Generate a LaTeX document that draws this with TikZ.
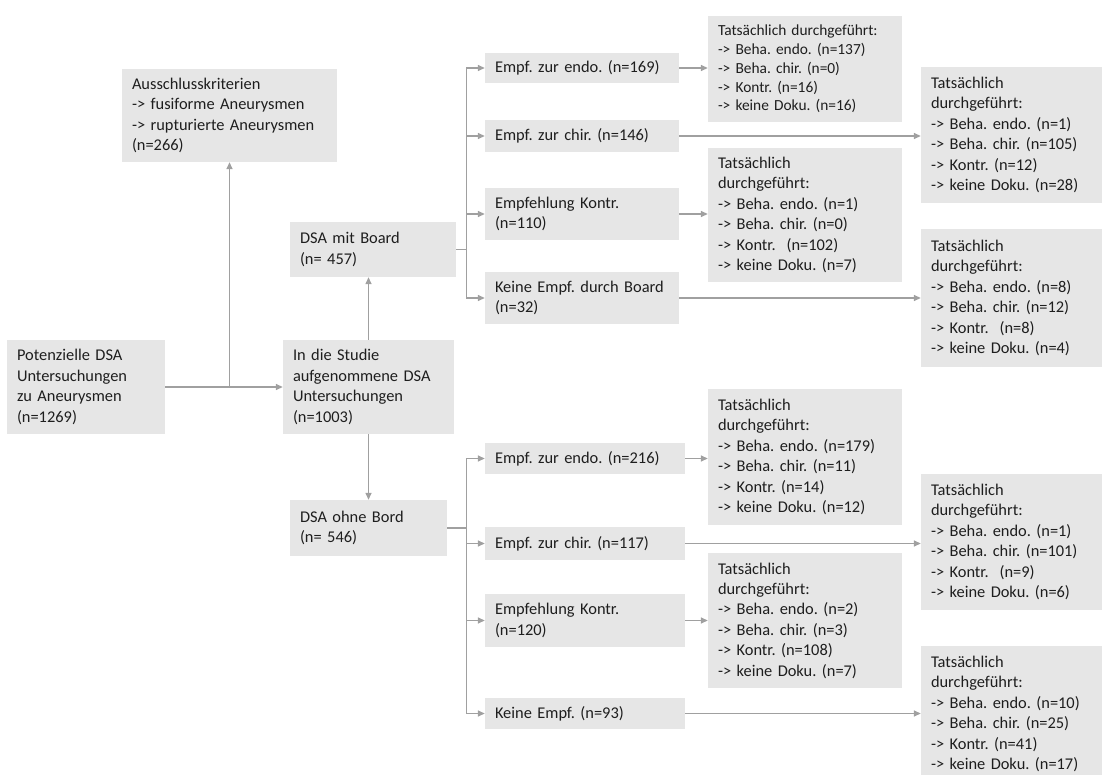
\documentclass[tikz,border=0pt]{standalone}
\usepackage{fontspec}
\setmainfont{Carlito}
\usetikzlibrary{arrows.meta,positioning}
\frenchspacing

\begin{document}
\begin{tikzpicture}[x=1pt, y=-1pt,
    box/.style={fill=fillColourBox, text=textColour, inner xsep=10pt, inner ysep=0pt,
        align=left, font=\fontsize{16.4}{20.4}\selectfont},
    smallbox/.style={box, font=\fontsize{15.4}{18.8}\selectfont},
    line/.style={draw=lineColour, line width=1.4pt},
    arr/.style={line, -{Triangle[length=7pt,width=6pt]}}]
    \definecolor{fillColourBox}{HTML}{E6E6E6}
    \definecolor{lineColour}{HTML}{A0A0A0}
    \definecolor{textColour}{HTML}{1E1E1E}

    \useasboundingbox (0,0) rectangle (1103,775);

    % Left part: selection of the examinations
    \node[box, text width=138pt, minimum height=94pt] (pot) at (86,387)
        {Potenzielle DSA\\Untersuchungen\\zu Aneurysmen\\(n=1269)};
    \node[box, text width=195pt, minimum height=93pt] (excl) at (229.5,115.5)
        {Ausschlusskriterien\\-> fusiforme Aneurysmen\\-> rupturierte Aneurysmen\\(n=266)};
    \node[box, text width=151pt, minimum height=94pt] (study) at (368.5,387)
        {In die Studie\\aufgenommene DSA\\Untersuchungen\\(n=1003)};
    \node[box, text width=146pt, minimum height=55pt] (board) at (373,249.5)
        {DSA mit Board\\(n= 457)};
    \node[box, text width=137pt, minimum height=56pt] (noboard) at (368.5,528)
        {DSA ohne Bord\\(n= 546)};

    % Recommendations with board
    \node[box, text width=174pt, minimum height=30pt] (recEndoA) at (582,68)
        {Empf. zur endo. (n=169)};
    \node[box, text width=174pt, minimum height=32pt] (recChirA) at (582,136)
        {Empf. zur chir. (n=146)};
    \node[box, text width=174pt, minimum height=52pt] (recKontrA) at (582,214)
        {Empfehlung Kontr.\\(n=110)};
    \node[box, text width=174pt, minimum height=52pt] (recNoneA) at (582,298)
        {Keine Empf. durch Board\\(n=32)};

    % Recommendations without board
    \node[box, text width=180pt, minimum height=31pt] (recEndoB) at (585,458.5)
        {Empf. zur endo. (n=216)};
    \node[box, text width=180pt, minimum height=33pt] (recChirB) at (585,543.5)
        {Empf. zur chir. (n=117)};
    \node[box, text width=180pt, minimum height=53pt] (recKontrB) at (585,620.5)
        {Empfehlung Kontr.\\(n=120)};
    \node[box, text width=180pt, minimum height=31pt] (recNoneB) at (585,713.5)
        {Keine Empf. (n=93)};

    % What was actually done (with board)
    \node[smallbox, text width=174pt, minimum height=106pt] (resEndoA) at (805,69)
        {Tatsächlich durchgeführt:\\-> Beha. endo. (n=137)\\-> Beha. chir. (n=0)\\-> Kontr. (n=16)\\-> keine Doku. (n=16)};
    \node[box, text width=161pt, minimum height=136pt] (resChirA) at (1011.5,135)
        {Tatsächlich\\durchgeführt:\\-> Beha. endo. (n=1)\\-> Beha. chir. (n=105)\\-> Kontr. (n=12)\\-> keine Doku. (n=28)};
    \node[box, text width=174pt, minimum height=134pt] (resKontrA) at (805,215)
        {Tatsächlich\\durchgeführt:\\-> Beha. endo. (n=1)\\-> Beha. chir. (n=0)\\-> Kontr.~ (n=102)\\-> keine Doku. (n=7)};
    \node[box, text width=161pt, minimum height=138pt] (resNoneA) at (1011.5,298)
        {Tatsächlich\\durchgeführt:\\-> Beha. endo. (n=8)\\-> Beha. chir. (n=12)\\-> Kontr.~ (n=8)\\-> keine Doku. (n=4)};

    % What was actually done (without board)
    \node[box, text width=174pt, minimum height=136pt] (resEndoB) at (805,457)
        {Tatsächlich\\durchgeführt:\\-> Beha. endo. (n=179)\\-> Beha. chir. (n=11)\\-> Kontr. (n=14)\\-> keine Doku. (n=12)};
    \node[box, text width=161pt, minimum height=136pt] (resChirB) at (1011.5,542)
        {Tatsächlich\\durchgeführt:\\-> Beha. endo. (n=1)\\-> Beha. chir. (n=101)\\-> Kontr.~ (n=9)\\-> keine Doku. (n=6)};
    \node[box, text width=174pt, minimum height=135pt] (resKontrB) at (805,620.5)
        {Tatsächlich\\durchgeführt:\\-> Beha. endo. (n=2)\\-> Beha. chir. (n=3)\\-> Kontr. (n=108)\\-> keine Doku. (n=7)};
    \node[box, text width=161pt, minimum height=136pt] (resNoneB) at (1011.5,714)
        {Tatsächlich\\durchgeführt:\\-> Beha. endo. (n=10)\\-> Beha. chir. (n=25)\\-> Kontr. (n=41)\\-> keine Doku. (n=17)};

    % Draw selection arrows
    \draw[arr] (pot.east) -- (study.west);
    \draw[arr] (pot.east -| excl.south) -- (excl.south);
    \draw[arr] (study.north) -- (study.north |- board.south);
    \draw[arr] (study.south) -- (study.south |- noboard.north);

    % Draw branches to the recommendations
    \coordinate[right=10pt of board.east] (busA);
    \coordinate[right=19pt of noboard.east] (busB);
    \draw[line] (board.east) -- (busA);
    \draw[line] (noboard.east) -- (busB);
    \draw[line] (busA |- recEndoA.west) -- (busA |- recNoneA.west);
    \draw[line] (busB |- recEndoB.west) -- (busB |- recNoneB.west);
    \foreach \rec in {recEndoA,recChirA,recKontrA,recNoneA}
        \draw[arr] (busA |- \rec.west) -- (\rec.west);
    \foreach \rec in {recEndoB,recChirB,recKontrB,recNoneB}
        \draw[arr] (busB |- \rec.west) -- (\rec.west);

    % Draw arrows to what was actually done
    \foreach \kind in {EndoA,ChirA,KontrA,NoneA,EndoB,ChirB,KontrB,NoneB}
        \draw[arr] (rec\kind.east) -- (rec\kind.east -| res\kind.west);

\end{tikzpicture}
\end{document}
